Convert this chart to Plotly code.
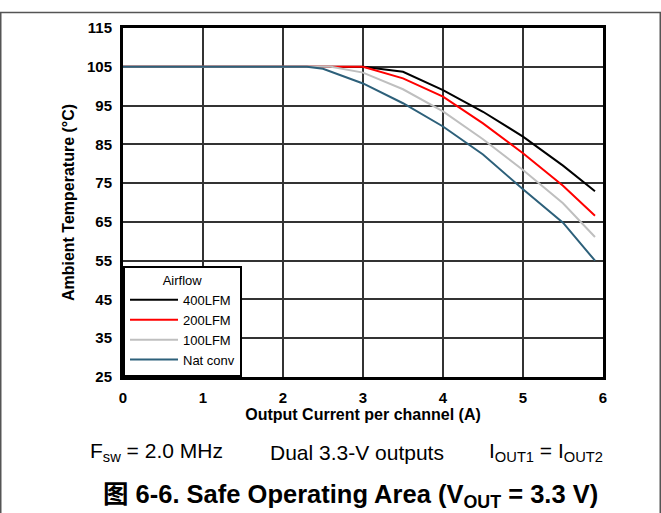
import plotly.graph_objects as go

# ---- data ----
x_400 = [0, 3.0, 3.5, 4.0, 4.5, 5.0, 5.5, 5.9]
y_400 = [105, 105, 103.7, 99.0, 93.4, 87.0, 79.5, 72.9]

x_200 = [0, 2.8, 3.0, 3.5, 4.0, 4.5, 5.0, 5.5, 5.9]
y_200 = [105, 105, 105, 102.0, 97.3, 90.4, 82.7, 74.3, 66.6]

x_100 = [0, 2.6, 3.0, 3.5, 4.0, 4.5, 5.0, 5.5, 5.9]
y_100 = [105, 105, 103.5, 99.2, 93.5, 86.3, 78.4, 69.8, 61.1]

x_nat = [0, 2.3, 2.5, 3.0, 3.5, 4.0, 4.5, 5.0, 5.5, 5.9]
y_nat = [105, 105, 104.5, 100.7, 95.6, 89.6, 82.4, 73.4, 64.8, 55.0]

series_names = ["400LFM", "200LFM", "100LFM", "Nat conv"]
series_colors = ["#000000", "#ff0000", "#bfbfbf", "#2d607a"]

x_ticks = [0, 1, 2, 3, 4, 5, 6]
y_ticks = [25, 35, 45, 55, 65, 75, 85, 95, 105, 115]

FONT = "Liberation Sans, Arial, sans-serif"

# plot area in pixels
L, R, T, B = 123, 603, 28, 377
PW, PH = R - L, B - T


def px(x):
    return (x - L) / PW


def py(y):
    return (B - y) / PH


fig = go.Figure()
for xs, ys, name, color in zip([x_400, x_200, x_100, x_nat],
                               [y_400, y_200, y_100, y_nat],
                               series_names, series_colors):
    fig.add_trace(go.Scatter(x=xs, y=ys, mode="lines", name=name,
                             line=dict(color=color, width=2)))

fig.update_layout(
    width=661, height=513,
    margin=dict(l=L, r=661 - R, t=T, b=513 - B),
    paper_bgcolor="white", plot_bgcolor="white",
    font=dict(family=FONT, color="black"),
    showlegend=True,
    legend=dict(
        x=0, y=0, xanchor="left", yanchor="bottom",
        bgcolor="white", bordercolor="black", borderwidth=2,
        font=dict(size=13, family=FONT),
        title=dict(text="Airflow", side="top center", font=dict(size=13, family=FONT)),
        tracegroupgap=0, itemwidth=48,
    ),
)

fig.update_xaxes(
    range=[0, 6], tickvals=x_ticks, ticktext=[str(v) for v in x_ticks],
    showgrid=True, gridcolor="#333333", gridwidth=2,
    showline=True, mirror=True, linecolor="black", linewidth=3,
    zeroline=False, ticks="outside", ticklen=5, tickcolor="rgba(0,0,0,0)",
    tickfont=dict(size=15, family=FONT, weight="bold"),
    title=dict(text="Output Current per channel (A)", standoff=1,
               font=dict(size=16, family=FONT, weight="bold")),
)
fig.update_yaxes(
    range=[25, 115], tickvals=y_ticks, ticktext=[str(v) for v in y_ticks],
    showgrid=True, gridcolor="#333333", gridwidth=2,
    showline=True, mirror=True, linecolor="black", linewidth=3,
    zeroline=False, ticks="outside", ticklen=5, tickcolor="rgba(0,0,0,0)",
    tickfont=dict(size=15, family=FONT, weight="bold"),
    title=dict(text="Ambient Temperature (°C)", standoff=9,
               font=dict(size=16, family=FONT, weight="bold")),
)

# conditions line
cond_y = py(452)
fig.add_annotation(text="F<sub>sw</sub> = 2.0 MHz", xref="paper", yref="paper",
                   x=px(88), y=cond_y, xanchor="left", yanchor="middle",
                   showarrow=False, font=dict(size=21, family=FONT))
fig.add_annotation(text="Dual 3.3-V outputs", xref="paper", yref="paper",
                   x=px(268), y=cond_y, xanchor="left", yanchor="middle",
                   showarrow=False, font=dict(size=21, family=FONT))
fig.add_annotation(text="I<sub>OUT1</sub> = I<sub>OUT2</sub>", xref="paper", yref="paper",
                   x=px(487), y=cond_y, xanchor="left", yanchor="middle",
                   showarrow=False, font=dict(size=21, family=FONT))
# caption
fig.add_annotation(text="图 6-6. Safe Operating Area (V<sub>OUT</sub> = 3.3 V)",
                   xref="paper", yref="paper",
                   x=px(350), y=py(496), xanchor="center", yanchor="middle",
                   showarrow=False,
                   font=dict(size=25.5, family="Liberation Sans, Noto Sans CJK SC, sans-serif",
                             weight="bold"))

# outer frame
frame = dict(color="#555555", width=1.5)
fig.add_shape(type="line", xref="paper", yref="paper",
              x0=px(0), x1=px(661), y0=py(12.5), y1=py(12.5), line=frame)
fig.add_shape(type="line", xref="paper", yref="paper",
              x0=px(0.75), x1=px(0.75), y0=py(12.5), y1=py(513), line=frame)
fig.add_shape(type="line", xref="paper", yref="paper",
              x0=px(660.25), x1=px(660.25), y0=py(12.5), y1=py(513), line=frame)

fig.write_html("out.html",
               config={"displayModeBar": False},
               post_script="document.body.style.margin='0';document.body.style.overflow='hidden';")
